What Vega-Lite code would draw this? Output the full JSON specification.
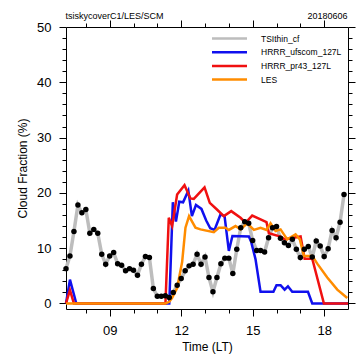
{
  "$schema": "https://vega.github.io/schema/vega-lite/v6.json",
  "width": 282,
  "height": 282,
  "autosize": {"type": "none"},
  "padding": {"left": 66, "top": 27, "right": 9, "bottom": 49},
  "background": "white",
  "config": {
    "view": {"stroke": null},
    "font": "Liberation Sans",
    "axis": {"grid": false, "domainColor": "black", "tickColor": "black", "labelColor": "black", "titleColor": "black", "labelFont": "Liberation Sans", "titleFont": "Liberation Sans", "titleFontWeight": "normal", "labelFlush": false, "labelOverlap": false},
    "legend": {"labelFont": "Liberation Sans"}
  },
  "datasets": {
    "tsi": [
      {"t": 7.167, "v": 6.3}, {"t": 7.333, "v": 8.6}, {"t": 7.5, "v": 13.0}, {"t": 7.667, "v": 17.8}, {"t": 7.833, "v": 16.4},
      {"t": 8.0, "v": 17.0}, {"t": 8.167, "v": 12.7}, {"t": 8.333, "v": 13.4}, {"t": 8.5, "v": 12.7}, {"t": 8.667, "v": 8.9},
      {"t": 8.833, "v": 7.1}, {"t": 9.0, "v": 8.6}, {"t": 9.167, "v": 9.2}, {"t": 9.333, "v": 7.2}, {"t": 9.5, "v": 6.9},
      {"t": 9.667, "v": 5.9}, {"t": 9.833, "v": 6.3}, {"t": 10.0, "v": 6.0}, {"t": 10.167, "v": 5.1}, {"t": 10.333, "v": 7.1},
      {"t": 10.5, "v": 8.5}, {"t": 10.667, "v": 8.3}, {"t": 10.833, "v": 2.7}, {"t": 11.0, "v": 1.3}, {"t": 11.167, "v": 1.3},
      {"t": 11.333, "v": 1.4}, {"t": 11.5, "v": 1.1}, {"t": 11.667, "v": 2.0}, {"t": 11.833, "v": 3.3}, {"t": 12.0, "v": 4.5},
      {"t": 12.167, "v": 5.9}, {"t": 12.333, "v": 6.8}, {"t": 12.5, "v": 7.1}, {"t": 12.667, "v": 8.9}, {"t": 12.833, "v": 7.1},
      {"t": 13.0, "v": 8.4}, {"t": 13.167, "v": 4.7}, {"t": 13.333, "v": 2.1}, {"t": 13.5, "v": 4.7}, {"t": 13.667, "v": 7.2},
      {"t": 13.833, "v": 8.2}, {"t": 14.0, "v": 8.2}, {"t": 14.167, "v": 5.4}, {"t": 14.333, "v": 9.8}, {"t": 14.5, "v": 13.7},
      {"t": 14.667, "v": 14.8}, {"t": 14.833, "v": 14.5}, {"t": 15.0, "v": 11.4}, {"t": 15.167, "v": 9.6}, {"t": 15.333, "v": 9.6},
      {"t": 15.5, "v": 9.3}, {"t": 15.667, "v": 11.9}, {"t": 15.833, "v": 13.7}, {"t": 16.0, "v": 13.9}, {"t": 16.167, "v": 11.8},
      {"t": 16.333, "v": 11.0}, {"t": 16.5, "v": 10.5}, {"t": 16.667, "v": 11.6}, {"t": 16.833, "v": 9.8}, {"t": 17.0, "v": 8.3},
      {"t": 17.167, "v": 9.8}, {"t": 17.333, "v": 10.3}, {"t": 17.5, "v": 8.4}, {"t": 17.667, "v": 11.3}, {"t": 17.833, "v": 10.4},
      {"t": 18.0, "v": 8.5}, {"t": 18.167, "v": 9.9}, {"t": 18.333, "v": 13.2}, {"t": 18.5, "v": 11.9}, {"t": 18.667, "v": 14.7},
      {"t": 18.833, "v": 19.7}
    ],
    "blue": [
      {"t": 7.167, "v": 0}, {"t": 7.333, "v": 4.3}, {"t": 7.6, "v": 0}, {"t": 11.5, "v": 0}, {"t": 11.65, "v": 18.3},
      {"t": 11.78, "v": 14.8}, {"t": 11.92, "v": 18.4}, {"t": 12.08, "v": 18.3}, {"t": 12.3, "v": 20.4}, {"t": 12.45, "v": 15.8},
      {"t": 12.62, "v": 17.8}, {"t": 12.85, "v": 17.1}, {"t": 13.05, "v": 15.0}, {"t": 13.22, "v": 13.6}, {"t": 13.4, "v": 13.3},
      {"t": 13.65, "v": 16.1}, {"t": 13.82, "v": 15.8}, {"t": 14.0, "v": 9.5}, {"t": 14.15, "v": 12.2}, {"t": 14.84, "v": 12.1},
      {"t": 14.94, "v": 11.1}, {"t": 15.12, "v": 8.0}, {"t": 15.33, "v": 2.1}, {"t": 15.87, "v": 2.1}, {"t": 16.0, "v": 3.3},
      {"t": 16.17, "v": 3.3}, {"t": 16.34, "v": 2.5}, {"t": 16.48, "v": 3.1}, {"t": 16.66, "v": 2.1}, {"t": 17.32, "v": 2.1},
      {"t": 17.5, "v": 0}, {"t": 19.0, "v": 0}
    ],
    "red": [
      {"t": 7.167, "v": 0}, {"t": 7.333, "v": 2.4}, {"t": 7.5, "v": 0}, {"t": 11.34, "v": 0}, {"t": 11.48, "v": 15.5},
      {"t": 11.62, "v": 14.0}, {"t": 11.83, "v": 19.7}, {"t": 12.14, "v": 21.4}, {"t": 12.39, "v": 19.0}, {"t": 12.53, "v": 18.9},
      {"t": 12.98, "v": 21.0}, {"t": 13.2, "v": 18.2}, {"t": 13.5, "v": 17.0}, {"t": 13.79, "v": 15.8}, {"t": 14.1, "v": 16.7},
      {"t": 14.49, "v": 15.5}, {"t": 14.7, "v": 14.6}, {"t": 14.98, "v": 15.9}, {"t": 15.33, "v": 15.2}, {"t": 15.58, "v": 14.7},
      {"t": 15.68, "v": 12.7}, {"t": 16.17, "v": 12.1}, {"t": 16.34, "v": 11.6}, {"t": 17.01, "v": 12.1}, {"t": 17.18, "v": 8.1},
      {"t": 17.5, "v": 8.1}, {"t": 17.99, "v": 0}, {"t": 19.0, "v": 0}
    ],
    "orange": [
      {"t": 7.167, "v": 0}, {"t": 11.34, "v": 0}, {"t": 11.5, "v": 0.3}, {"t": 11.62, "v": 1.0}, {"t": 11.83, "v": 2.8},
      {"t": 12.04, "v": 7.5}, {"t": 12.18, "v": 13.7}, {"t": 12.33, "v": 15.8}, {"t": 12.6, "v": 13.7}, {"t": 12.81, "v": 13.4},
      {"t": 13.37, "v": 12.9}, {"t": 13.58, "v": 13.7}, {"t": 13.86, "v": 13.7}, {"t": 14.0, "v": 13.3}, {"t": 14.28, "v": 14.0},
      {"t": 14.49, "v": 13.4}, {"t": 14.77, "v": 14.5}, {"t": 15.05, "v": 13.3}, {"t": 15.33, "v": 13.7}, {"t": 15.58, "v": 13.3},
      {"t": 15.75, "v": 14.5}, {"t": 15.96, "v": 13.1}, {"t": 16.17, "v": 13.4}, {"t": 16.45, "v": 11.6}, {"t": 16.8, "v": 12.5},
      {"t": 16.98, "v": 11.6}, {"t": 17.15, "v": 8.6}, {"t": 17.5, "v": 8.6}, {"t": 17.71, "v": 7.2}, {"t": 18.13, "v": 4.7},
      {"t": 18.55, "v": 2.5}, {"t": 18.97, "v": 1.0}
    ]
  },
  "layer": [
    {
      "data": {"name": "tsi"},
      "mark": {"type": "line", "strokeWidth": 3.5},
      "encoding": {
        "x": {"field": "t", "type": "quantitative", "scale": {"domain": [7.167, 19], "nice": false, "zero": false},
          "axis": {"orient": "bottom", "values": [9, 12, 15, 18], "format": "02d", "tickSize": 7, "labelFontSize": 13, "labelPadding": 8, "domain": true, "title": "Time (LT)", "titleFontSize": 12, "titlePadding": 4}},
        "y": {"field": "v", "type": "quantitative", "scale": {"domain": [-1, 50], "nice": false, "zero": false},
          "axis": {"orient": "left", "values": [0, 10, 20, 30, 40, 50], "tickSize": 7, "labelFontSize": 13, "labelPadding": 8, "domain": true, "title": "Cloud Fraction (%)", "titleFontSize": 12, "titlePadding": 7}},
        "color": {"datum": "TSIthin_cf", "type": "nominal",
          "scale": {"domain": ["TSIthin_cf", "HRRR_ufscom_127L", "HRRR_pr43_127L", "LES"], "range": ["#bdbdbd", "#1010ee", "#f01010", "#ff8c00"]},
          "legend": {"orient": "none", "legendX": 157, "legendY": 5, "title": null, "symbolType": "M-3.5,0H3.5", "symbolSize": 100, "symbolStrokeWidth": 2.5, "labelFontSize": 8.5, "labelOffset": 25, "rowPadding": 1.7, "padding": 0}}
      }
    },
    {
      "data": {"name": "blue"},
      "mark": {"type": "line", "strokeWidth": 2.5},
      "encoding": {
        "x": {"field": "t", "type": "quantitative", "axis": {"orient": "bottom", "values": [8, 10, 11, 13, 14, 16, 17], "tickSize": 4, "labels": false, "domain": false, "title": null}},
        "y": {"field": "v", "type": "quantitative", "axis": {"orient": "left", "values": [2, 4, 6, 8, 12, 14, 16, 18, 22, 24, 26, 28, 32, 34, 36, 38, 42, 44, 46, 48], "tickSize": 4, "labels": false, "domain": false, "title": null}},
        "color": {"datum": "HRRR_ufscom_127L", "type": "nominal"}
      }
    },
    {
      "data": {"name": "red"},
      "mark": {"type": "line", "strokeWidth": 2.5},
      "encoding": {
        "x": {"field": "t", "type": "quantitative", "axis": {"orient": "top", "values": [9, 12, 15, 18], "tickSize": 7, "labels": false, "domain": true, "title": "20180606", "titleFontSize": 9, "titleAlign": "right", "titleAnchor": "end", "titleX": 281, "titleY": -9, "titleBaseline": "alphabetic"}},
        "y": {"field": "v", "type": "quantitative", "axis": {"orient": "right", "values": [0, 10, 20, 30, 40, 50], "tickSize": 7, "labels": false, "domain": true, "title": null}},
        "color": {"datum": "HRRR_pr43_127L", "type": "nominal"}
      }
    },
    {
      "data": {"name": "orange"},
      "mark": {"type": "line", "strokeWidth": 2.5},
      "encoding": {
        "x": {"field": "t", "type": "quantitative", "axis": {"orient": "top", "values": [8, 10, 11, 13, 14, 16, 17], "tickSize": 4, "labels": false, "domain": false, "title": "tsiskycoverC1/LES/SCM", "titleFontSize": 9, "titleAlign": "left", "titleAnchor": "start", "titleX": -1, "titleY": -9, "titleBaseline": "alphabetic"}},
        "y": {"field": "v", "type": "quantitative", "axis": {"orient": "right", "values": [2, 4, 6, 8, 12, 14, 16, 18, 22, 24, 26, 28, 32, 34, 36, 38, 42, 44, 46, 48], "tickSize": 4, "labels": false, "domain": false, "title": null}},
        "color": {"datum": "LES", "type": "nominal"}
      }
    },
    {
      "data": {"name": "tsi"},
      "mark": {"type": "point", "filled": true, "color": "black", "opacity": 1, "size": 30},
      "encoding": {
        "x": {"field": "t", "type": "quantitative", "axis": null},
        "y": {"field": "v", "type": "quantitative", "axis": null}
      }
    }
  ],
  "resolve": {"axis": {"x": "independent", "y": "independent"}}
}
